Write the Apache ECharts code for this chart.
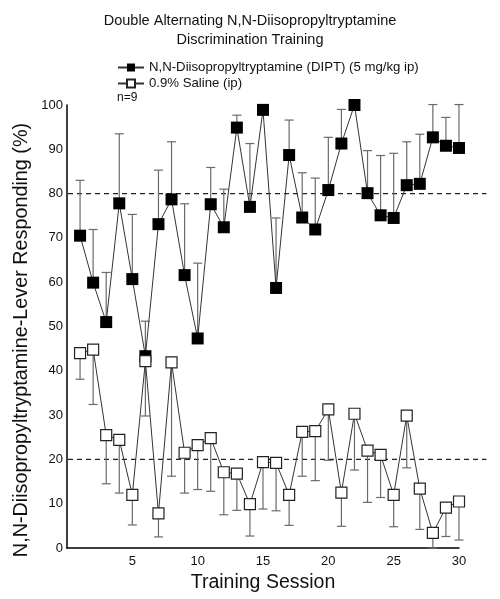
<!DOCTYPE html>
<html><head><meta charset="utf-8">
<script src="https://cdn.jsdelivr.net/npm/echarts@6/dist/echarts.min.js"></script>
<style>html,body{margin:0;padding:0;background:#fff}#c{width:500px;height:599px}</style>
</head><body><div id="c"></div>
<script>
var sessions = [1,2,3,4,5,6,7,8,9,10,11,12,13,14,15,16,17,18,19,20,21,22,23,24,25,26,27,28,29,30];
var diptMean = [70.5,59.9,51.0,77.8,60.7,43.3,73.1,78.7,61.6,47.3,77.6,72.4,94.9,77.0,98.9,58.7,88.7,74.6,71.9,80.8,91.3,100,80.1,75.1,74.5,81.9,82.2,92.7,90.8,90.3];
var diptUpper = [83.0,71.9,62.2,93.5,75.3,51.2,85.3,91.7,77.7,64.3,85.9,81.0,97.7,91.3,98.9,74.5,96.6,84.7,83.5,92.7,99.0,100,89.7,88.6,89.1,91.7,93.4,100.1,97.2,100.1];
var salineMean = [44.0,44.8,25.5,24.4,12.0,42.2,7.8,41.9,21.5,23.2,24.8,17.1,16.8,9.9,19.4,19.2,12.0,26.2,26.4,31.3,12.5,30.3,22.0,21.0,12.0,29.9,13.4,3.4,9.1,10.5];
var salineLower = [38.1,32.4,14.5,12.4,5.2,29.8,2.5,16.2,12.4,13.2,12.8,7.5,8.5,2.7,8.8,8.4,5.1,16.2,15.2,19.8,4.9,17.6,10.3,11.4,4.8,18.1,4.2,0,2.6,1.8];
var criteria = [80, 20];
var criteriaEnd = 32.1;
var seriesNames = ['N,N-Diisopropyltryptamine (DIPT) (5 mg/kg ip)', '0.9% Saline (ip)'];
var titleLines = ['Double Alternating N,N-Diisopropyltryptamine', 'Discrimination Training'];
var yTitle = 'N,N-Diisopropyltryptamine-Lever Responding (%)';
var xTitle = 'Training Session';
var noteText = 'n=9';

var chart = echarts.init(document.getElementById('c'), null, {renderer:'canvas'});
function pairs(a){return sessions.map(function(s,i){return [s,a[i]];});}
function errData(m,e){return sessions.map(function(s,i){return [s,m[i],e[i]];});}
function errRender(params, api){
  var x=api.value(0), m=api.value(1), e=api.value(2);
  var p0=api.coord([x,m]), p1=api.coord([x,e]);
  if (Math.abs(p1[1]-p0[1])<0.5) return null;
  var st={stroke:'#6a6a6a',lineWidth:1.2};
  return {type:'group',children:[
    {type:'line',shape:{x1:p0[0],y1:p0[1],x2:p1[0],y2:p1[1]},style:st},
    {type:'line',shape:{x1:p1[0]-4.5,y1:p1[1],x2:p1[0]+4.5,y2:p1[1]},style:st}
  ]};
}
function critRender(params, api){
  var c=api.value(1);
  var p0=api.coord([api.value(0),c]), p1=api.coord([criteriaEnd,c]);
  return {type:'line',shape:{x1:p0[0]+1,y1:p0[1],x2:p1[0],y2:p1[1]},style:{stroke:'#222',lineWidth:1.3,lineDash:[5,4]}};
}
var font='"Liberation Sans", Arial, sans-serif';
chart.setOption({
  animation:false,
  textStyle:{fontFamily:font},
  title:{text:titleLines.join('\n'),left:'center',top:6,textStyle:{fontSize:14.5,fontWeight:'normal',color:'#111',lineHeight:19,fontFamily:font}},
  legend:{orient:'vertical',left:112,top:56,itemWidth:26,itemHeight:10,itemGap:3,
    data:seriesNames,textStyle:{fontSize:13.2,color:'#111',fontFamily:font},selectedMode:false},
  grid:{left:67,right:41,top:105,bottom:51},
  xAxis:{type:'value',min:0,max:30,interval:5,
    axisLine:{lineStyle:{color:'#000',width:1.5}},axisTick:{show:false},splitLine:{show:false},
    axisLabel:{showMinLabel:false,fontSize:13,color:'#111',margin:7,fontFamily:font},
    name:xTitle,nameLocation:'middle',nameGap:24,nameTextStyle:{fontSize:19.5,color:'#111',fontFamily:font}},
  yAxis:{type:'value',min:0,max:100,interval:10,
    axisLine:{show:true,lineStyle:{color:'#000',width:1.5}},axisTick:{show:false},splitLine:{show:false},
    axisLabel:{fontSize:13,color:'#111',margin:4,fontFamily:font}},
  graphic:[
    {type:'text',left:117,top:92,style:{text:noteText,fontSize:12,fill:'#111',fontFamily:font}},
    {type:'text',x:22,y:340,rotation:Math.PI/2,style:{text:yTitle,fontSize:19.8,fill:'#111',fontFamily:font,align:'center',verticalAlign:'middle'}}
  ],
  series:[
    {type:'custom',name:'crit',renderItem:critRender,data:criteria.map(function(c){return [0,c];}),z:0,silent:true,clip:false},
    {type:'custom',name:'errD',renderItem:errRender,data:errData(diptMean,diptUpper),z:1,silent:true},
    {type:'custom',name:'errS',renderItem:errRender,data:errData(salineMean,salineLower),z:1,silent:true},
    {type:'line',name:seriesNames[0],data:pairs(diptMean),symbol:'rect',symbolSize:12,
      itemStyle:{color:'#000',borderColor:'#000',borderWidth:0},lineStyle:{color:'#333',width:1},z:3,clip:false},
    {type:'line',name:seriesNames[1],data:pairs(salineMean),symbol:'rect',symbolSize:11,
      itemStyle:{color:'#fff',borderColor:'#222',borderWidth:1.2},lineStyle:{color:'#333',width:1},z:4}
  ]
});
</script></body></html>
